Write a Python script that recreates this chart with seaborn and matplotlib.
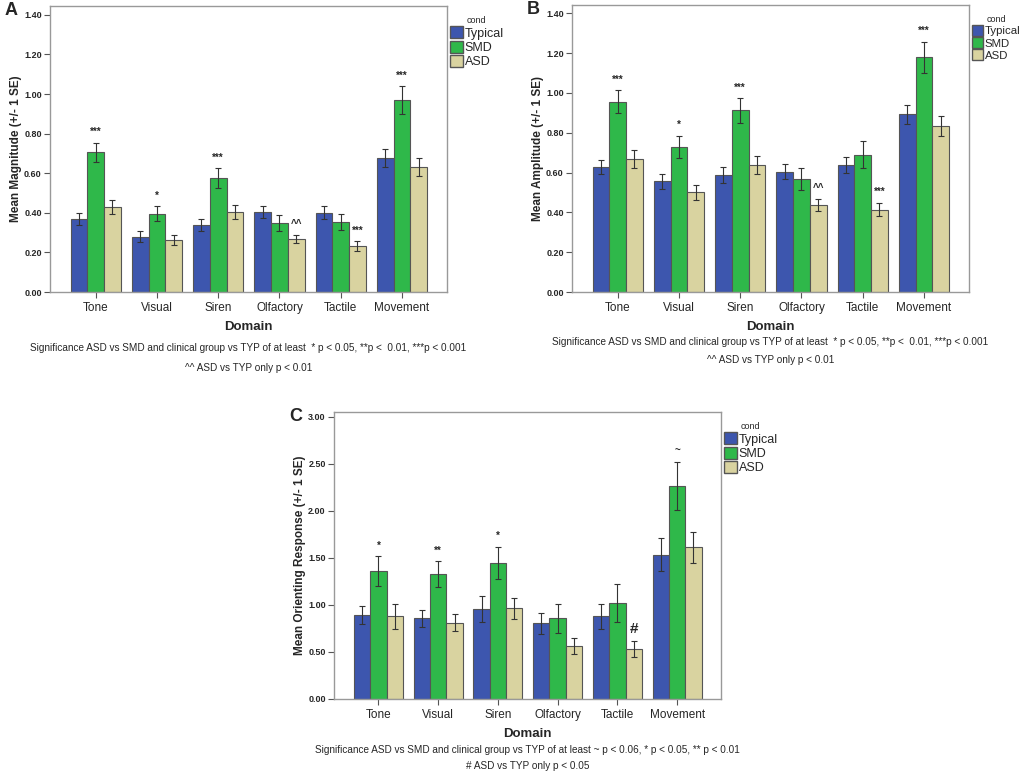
import numpy as np
import pandas as pd
import matplotlib
matplotlib.use("Agg")
import matplotlib.pyplot as plt
import seaborn as sns
from matplotlib.patches import Patch

# data
domains = ["Tone", "Visual", "Siren", "Olfactory", "Tactile", "Movement"]
groups = ["Typical", "SMD", "ASD"]

mag_typical = [0.37, 0.28, 0.34, 0.405, 0.40, 0.675]
mag_smd = [0.705, 0.395, 0.575, 0.347, 0.353, 0.969]
mag_asd = [0.429, 0.262, 0.405, 0.268, 0.232, 0.631]
mag_se_typical = [0.030, 0.029, 0.031, 0.032, 0.032, 0.045]
mag_se_smd = [0.049, 0.038, 0.050, 0.040, 0.042, 0.072]
mag_se_asd = [0.035, 0.025, 0.037, 0.022, 0.024, 0.045]
mag_marks = {("SMD", "Tone"): "***", ("SMD", "Visual"): "*", ("SMD", "Siren"): "***",
             ("ASD", "Olfactory"): "^^", ("ASD", "Tactile"): "***", ("SMD", "Movement"): "***"}

amp_typical = [0.629, 0.557, 0.588, 0.605, 0.639, 0.892]
amp_smd = [0.957, 0.729, 0.912, 0.568, 0.689, 1.179]
amp_asd = [0.666, 0.500, 0.639, 0.438, 0.414, 0.835]
amp_se_typical = [0.035, 0.038, 0.041, 0.038, 0.039, 0.049]
amp_se_smd = [0.057, 0.057, 0.063, 0.054, 0.068, 0.079]
amp_se_asd = [0.045, 0.038, 0.046, 0.031, 0.034, 0.049]
amp_marks = {("SMD", "Tone"): "***", ("SMD", "Visual"): "*", ("SMD", "Siren"): "***",
             ("ASD", "Olfactory"): "^^", ("ASD", "Tactile"): "***", ("SMD", "Movement"): "***"}

ori_typical = [0.893, 0.857, 0.960, 0.804, 0.878, 1.537]
ori_smd = [1.357, 1.325, 1.449, 0.857, 1.024, 2.270]
ori_asd = [0.878, 0.811, 0.963, 0.567, 0.528, 1.612]
ori_se_typical = [0.097, 0.089, 0.138, 0.110, 0.133, 0.177]
ori_se_smd = [0.160, 0.138, 0.170, 0.157, 0.200, 0.256]
ori_se_asd = [0.135, 0.089, 0.110, 0.085, 0.085, 0.163]
ori_marks = {("SMD", "Tone"): "*", ("SMD", "Visual"): "**", ("SMD", "Siren"): "*",
             ("ASD", "Tactile"): "#", ("SMD", "Movement"): "~"}

colors = ["#3d56ae", "#2fb84a", "#d9d3a0"]

sns.set_style("white")
plt.rcParams["font.family"] = ["Liberation Sans", "DejaVu Sans"]


def make_df(vals, ses):
    rows = []
    for g, v, s in zip(groups, vals, ses):
        for d, vv, ss in zip(domains, v, s):
            rows.append({"Domain": d, "cond": g, "value": vv, "se": ss})
    return pd.DataFrame(rows)


def draw_panel(ax, df, marks, ylim, ticks, ylabel, letter, notes, note_y, leg_size=9):
    sns.barplot(data=df, x="Domain", y="value", hue="cond", order=domains,
                hue_order=groups, palette=colors, errorbar=None, width=0.82,
                edgecolor="#555555", linewidth=0.8, saturation=1, legend=False, ax=ax)
    for g, cont in zip(groups, ax.containers):
        sub = df[df["cond"] == g].set_index("Domain").loc[domains]
        for d, bar, v, s in zip(domains, cont.patches, sub["value"], sub["se"]):
            xc = bar.get_x() + bar.get_width() / 2
            ax.errorbar(xc, v, yerr=s, color="#333333", elinewidth=0.8,
                        capsize=2.5, capthick=0.8)
            if (g, d) in marks:
                ax.annotate(marks[(g, d)], (xc, v + s), xytext=(0, 4),
                            textcoords="offset points", ha="center", va="bottom",
                            fontsize=7 if marks[(g, d)] != "#" else 11,
                            fontweight="bold")
    ax.set_xlim(-0.745, 5.735)
    ax.set_ylim(*ylim)
    ax.set_yticks(ticks)
    ax.set_yticklabels([f"{t:.2f}" for t in ticks], fontsize=6.5, fontweight="bold")
    ax.set_xticks(range(len(domains)))
    ax.set_xticklabels(domains, fontsize=8.5)
    ax.tick_params(axis="both", direction="out", length=4, width=0.8, color="#555555",
                   bottom=True, left=True, pad=2)
    ax.tick_params(axis="x", pad=3)
    for sp in ax.spines.values():
        sp.set_color("#999999")
        sp.set_linewidth(1.0)
    ax.set_xlabel("Domain", fontsize=9.5, fontweight="bold", labelpad=5)
    ax.set_ylabel(ylabel, fontsize=8.5, fontweight="bold", labelpad=1.5)
    handles = [Patch(facecolor=c, edgecolor="#555555", label=g) for c, g in zip(colors, groups)]
    leg = ax.legend(handles=handles, title="cond", loc="upper left",
                    bbox_to_anchor=(1.0, 0.975), frameon=False, fontsize=leg_size,
                    title_fontsize=6.5, handlelength=1.0, handleheight=1.1,
                    handletextpad=0.15, labelspacing=0.08, borderaxespad=0.05,
                    borderpad=0.2)
    leg._legend_box.align = "center"
    fig = ax.figure
    pos = ax.get_position()
    fig.text(pos.x0 - 0.044, pos.y1 - 0.006, letter, fontsize=13, fontweight="bold",
             ha="left", va="center")
    cx = (pos.x0 + pos.x1) / 2
    for t, y in zip(notes, note_y):
        fig.text(cx, 1 - y / 772, t, ha="center", va="center", fontsize=7.2)


fig = plt.figure(figsize=(10.22, 7.72), dpi=100)
ax_a = fig.add_axes([50 / 1022, 1 - 292 / 772, 397 / 1022, 286 / 772])
ax_b = fig.add_axes([572 / 1022, 1 - 292 / 772, 397 / 1022, 287 / 772])
ax_c = fig.add_axes([334 / 1022, 1 - 699 / 772, 387 / 1022, 287 / 772])

ticks_ab = [0.0, 0.2, 0.4, 0.6, 0.8, 1.0, 1.2, 1.4]
draw_panel(ax_a, make_df([mag_typical, mag_smd, mag_asd], [mag_se_typical, mag_se_smd, mag_se_asd]),
           mag_marks, (0, 1.445), ticks_ab, "Mean Magnitude (+/- 1 SE)", "A",
           ["Significance ASD vs SMD and clinical group vs TYP of at least  * p < 0.05, **p <  0.01, ***p < 0.001",
            "^^ ASD vs TYP only p < 0.01"], [348, 368])
draw_panel(ax_b, make_df([amp_typical, amp_smd, amp_asd], [amp_se_typical, amp_se_smd, amp_se_asd]),
           amp_marks, (0, 1.442), ticks_ab, "Mean Amplitude (+/- 1 SE)", "B",
           ["Significance ASD vs SMD and clinical group vs TYP of at least  * p < 0.05, **p <  0.01, ***p < 0.001",
            "^^ ASD vs TYP only p < 0.01"], [342, 360], leg_size=8.2)
draw_panel(ax_c, make_df([ori_typical, ori_smd, ori_asd], [ori_se_typical, ori_se_smd, ori_se_asd]),
           ori_marks, (0, 3.053), [0.0, 0.5, 1.0, 1.5, 2.0, 2.5, 3.0],
           "Mean Orienting Response (+/- 1 SE)", "C",
           ["Significance ASD vs SMD and clinical group vs TYP of at least ~ p < 0.06, * p < 0.05, ** p < 0.01",
            "# ASD vs TYP only p < 0.05"], [750, 766])

fig.savefig("out.png", dpi=100)
